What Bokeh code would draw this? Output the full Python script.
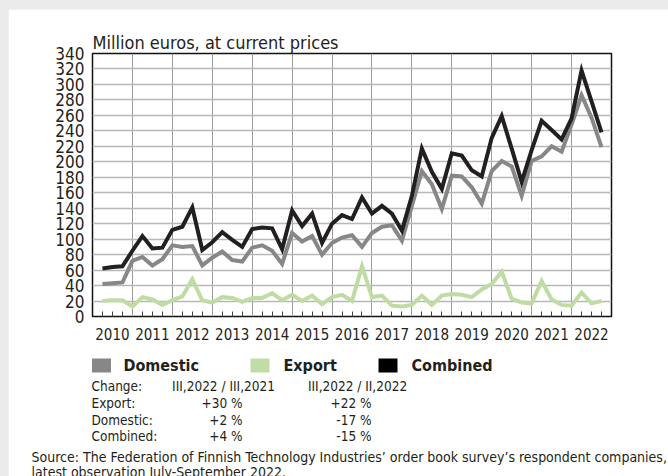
from bokeh.plotting import figure
from bokeh.models import FixedTicker, Range1d
from bokeh.core.properties import value
from bokeh.embed import file_html
from bokeh.resources import INLINE

FONT = "DejaVu Sans Condensed"
TXT = "#231f20"

# ---- data (quarterly, 2010 Q1 .. 2022 Q3), million euros ----
years = list(range(2010, 2023))
quarters = [1, 2, 3, 4]
combined = [62, 64, 65, 85,
            104, 88, 89, 112,
            116, 141, 86, 96,
            109, 99, 90, 113,
            115, 114, 87, 137,
            117, 133, 95, 120,
            131, 126, 154, 133,
            143, 133, 111, 156,
            217, 187, 165, 211,
            208, 189, 181, 231,
            259, 217, 174, 215,
            253, 241, 229, 256,
            318, 278, 238]
domestic = [42, 43, 44, 72,
            77, 66, 74, 92,
            90, 91, 66, 76,
            84, 73, 71, 89,
            92, 85, 68, 108,
            97, 104, 80, 95,
            102, 105, 90, 108,
            116, 118, 98, 143,
            188, 171, 139, 182,
            181, 167, 146, 188,
            201, 194, 156, 201,
            207, 220, 213, 248,
            286, 257, 219]
export = [20, 21, 21, 13,
          25, 22, 15, 21,
          26, 48, 21, 18,
          25, 24, 19, 24,
          24, 30, 21, 28,
          20, 27, 16, 25,
          28, 20, 65, 25,
          27, 14, 13, 15,
          27, 15, 27, 29,
          28, 25, 35, 42,
          58, 23, 18, 17,
          46, 22, 15, 14,
          31, 17, 20]
y_ticks = list(range(0, 341, 20))

series_names = ["Domestic", "Export", "Combined"]
series_colors = ["#878787", "#bfdca3", "#231f20"]
legend_colors = ["#878787", "#c1dda7", "#000000"]

table_rows = ["Change:", "Export:", "Domestic:", "Combined:"]
col_yoy = ["III,2022 / III,2021", "+30 %", "+2 %", "+4 %"]
col_qoq = ["III,2022 / II,2022", "+22 %", "-17 %", "-15 %"]
source_lines = [
    "Source: The Federation of Finnish Technology Industries\u2019 order book survey\u2019s respondent companies,",
    "latest observation July-September 2022.",
]

periods = [(y, q) for y in years for q in quarters][:len(combined)]
x = [y + q / 4 for (y, q) in periods]

# ---- figure: frame spans page px 92..611 x 53..316 ----
p = figure(width=660, height=467, x_range=Range1d(years[0], years[-1] + 1),
           y_range=Range1d(0, 340), output_backend="svg", toolbar_location=None,
           min_border_left=84, min_border_right=57, min_border_top=44,
           min_border_bottom=160, title="Million euros, at current prices")
p.title.text_font = FONT
p.title.text_font_size = "18px"
p.title.text_font_style = "normal"
p.title.text_color = TXT
p.title.align = "left"
p.title.standoff = 2
p.outline_line_color = "#111111"
p.outline_line_width = 1.5

# page-pixel ranges for the notes below the chart
p.extra_x_ranges = {"px": Range1d(92, 611)}
p.extra_y_ranges = {"px": Range1d(316, 53)}

p.line(x, export, color=series_colors[1], line_width=4, line_join="miter")
p.line(x, domestic, color=series_colors[0], line_width=4, line_join="miter")
p.line(x, combined, color=series_colors[2], line_width=4, line_join="miter")

mids = [y + 0.5 for y in years]
minor = [y + q / 4 for y in years for q in (1, 2, 3)]
p.xaxis.ticker = FixedTicker(ticks=mids, minor_ticks=minor)
p.xaxis.major_label_overrides = {m: str(y) for m, y in zip(mids, years)}
p.xaxis.major_tick_line_color = None
p.xaxis.major_tick_out = 0
p.xaxis.minor_tick_in = 5
p.xaxis.minor_tick_out = 0
p.xaxis.minor_tick_line_color = "#444444"
p.xaxis.axis_line_color = None
p.xaxis.major_label_standoff = 11
p.xaxis.major_label_text_font = FONT
p.xaxis.major_label_text_font_size = "15px"
p.xaxis.major_label_text_color = TXT

p.yaxis.ticker = FixedTicker(ticks=y_ticks)
p.yaxis.major_tick_line_color = None
p.yaxis.minor_tick_line_color = None
p.yaxis.major_tick_out = 0
p.yaxis.axis_line_color = None
p.yaxis.major_label_standoff = 8
p.yaxis.major_label_text_font = FONT
p.yaxis.major_label_text_font_size = "17px"
p.yaxis.major_label_text_color = TXT

p.xgrid.ticker = FixedTicker(ticks=years)
p.xgrid.grid_line_color = "#9a9a9a"
p.xgrid.grid_line_width = 1
p.ygrid.ticker = FixedTicker(ticks=y_ticks)
p.ygrid.grid_line_color = "#b8b8b8"
p.ygrid.grid_line_width = 1.5

PX = dict(x_range_name="px", y_range_name="px", level="overlay")

# legend
leg_sq_x = [101, 259.5, 387.5]
leg_tx_x = [123, 283, 411]
leg_y = [365] * 3
p.rect(leg_sq_x, leg_y, width=19, height=14, fill_color=legend_colors, line_color=None, **PX)
p.text(leg_tx_x, leg_y, text=series_names, text_baseline="middle",
       text_font=value(FONT), text_font_style="bold", text_font_size="16px",
       text_color=TXT, **PX)

# change table
row_y = [385, 402, 419, 435]
TS = dict(text_baseline="middle", text_font=value(FONT), text_font_size="13.5px", text_color=TXT)
p.text([91] * 4, row_y, text=table_rows, **TS, **PX)
p.text([223], row_y[:1], text=col_yoy[:1], text_align="center", **TS, **PX)
p.text([357], row_y[:1], text=col_qoq[:1], text_align="center", **TS, **PX)
p.text([242] * 3, row_y[1:], text=col_yoy[1:], text_align="right", **TS, **PX)
p.text([371] * 3, row_y[1:], text=col_qoq[1:], text_align="right", **TS, **PX)

# source
p.text([31, 31], [456, 471], text=source_lines, text_baseline="middle",
       text_font=value(FONT), text_font_size="14px", text_color=TXT, **PX)

html = file_html(p, INLINE)
css = ("<style>html, body { background: #ebebeb !important; } "
       "body { padding: 9px 0 0 8px !important; overflow: hidden; }</style>")
html = html.replace("</head>", css + "</head>", 1)
open("out.html", "w").write(html)
